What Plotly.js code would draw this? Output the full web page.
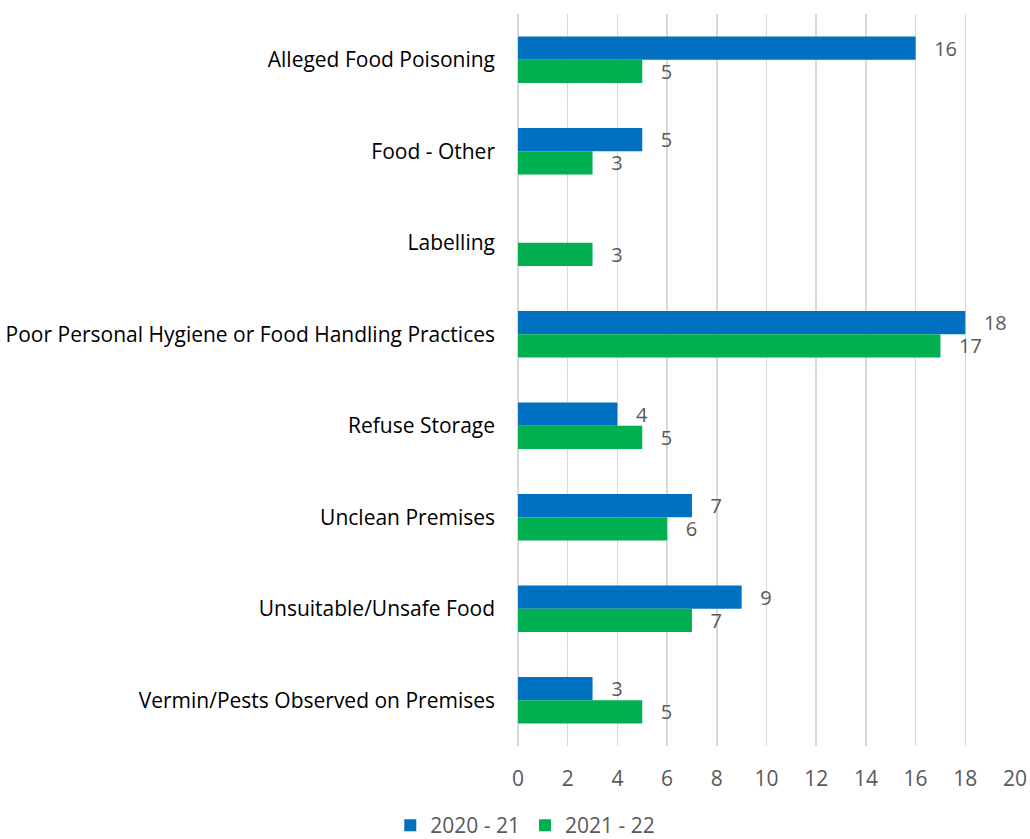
<!DOCTYPE html>
<html>
<head>
<meta charset="utf-8">
<script src="https://cdn.plot.ly/plotly-3.0.1.min.js"></script>
<style>html,body{margin:0;padding:0;background:#fff;}#chart{width:1030px;height:839px;}</style>
</head>
<body>
<div id="chart"></div>
<script>
const categories = [
  "Alleged Food Poisoning",
  "Food - Other",
  "Labelling",
  "Poor Personal Hygiene or Food Handling Practices",
  "Refuse Storage",
  "Unclean Premises",
  "Unsuitable/Unsafe Food",
  "Vermin/Pests Observed on Premises"
];
const values2020 = [16, 5, null, 18, 4, 7, 9, 3];
const values2021 = [5, 3, 3, 17, 5, 6, 7, 5];
const seriesNames = ["2020 - 21", "2021 - 22"];
const xTicks = [0, 2, 4, 6, 8, 10, 12, 14, 16, 18, 20];

const FONT = "Open Sans, Liberation Sans, sans-serif";
const labelFont = {family: FONT, size: 20, color: "#595959"};

function barTrace(vals, name, color) {
  return {
    type: "bar",
    orientation: "h",
    y: categories,
    x: vals,
    name: name,
    marker: {color: color},
    text: vals.map(v => v == null ? "" : String(v)),
    texttemplate: "   %{text}",
    textposition: "outside",
    constraintext: "none",
    cliponaxis: false,
    textfont: labelFont,
    hoverinfo: "x+y+name"
  };
}

const data = [
  barTrace(values2020, seriesNames[0], "#0070C0"),
  barTrace(values2021, seriesNames[1], "#00B050")
];

const layout = {
  width: 1030,
  height: 839,
  margin: {l: 518, r: 15, t: 14, b: 93},
  paper_bgcolor: "#fff",
  plot_bgcolor: "#fff",
  barmode: "group",
  bargap: 0.49,
  bargroupgap: 0,
  showlegend: true,
  font: {family: FONT},
  xaxis: {
    range: [0, 20],
    tickvals: xTicks,
    ticktext: xTicks.map(String),
    showgrid: true,
    gridcolor: "#d9d9d9",
    gridwidth: 1.5,
    zeroline: true,
    zerolinecolor: "#d9d9d9",
    zerolinewidth: 1.5,
    showline: false,
    ticks: "",
    ticklabelstandoff: 18,
    tickfont: {family: FONT, size: 21, color: "#595959"},
    fixedrange: true
  },
  yaxis: {
    type: "category",
    autorange: "reversed",
    showgrid: false,
    zeroline: false,
    showline: false,
    ticks: "",
    ticklabelstandoff: 22,
    tickfont: {family: FONT, size: 21, color: "#000"},
    automargin: false,
    fixedrange: true
  },
  legend: {
    orientation: "h",
    xref: "container",
    yref: "container",
    x: 0.51,
    xanchor: "center",
    y: 0.016,
    yanchor: "middle",
    font: {family: FONT, size: 21, color: "#595959"},
    itemwidth: 30,
    traceorder: "normal"
  }
};

Plotly.newPlot("chart", data, layout, {displayModeBar: false, staticPlot: true});
</script>
</body>
</html>
